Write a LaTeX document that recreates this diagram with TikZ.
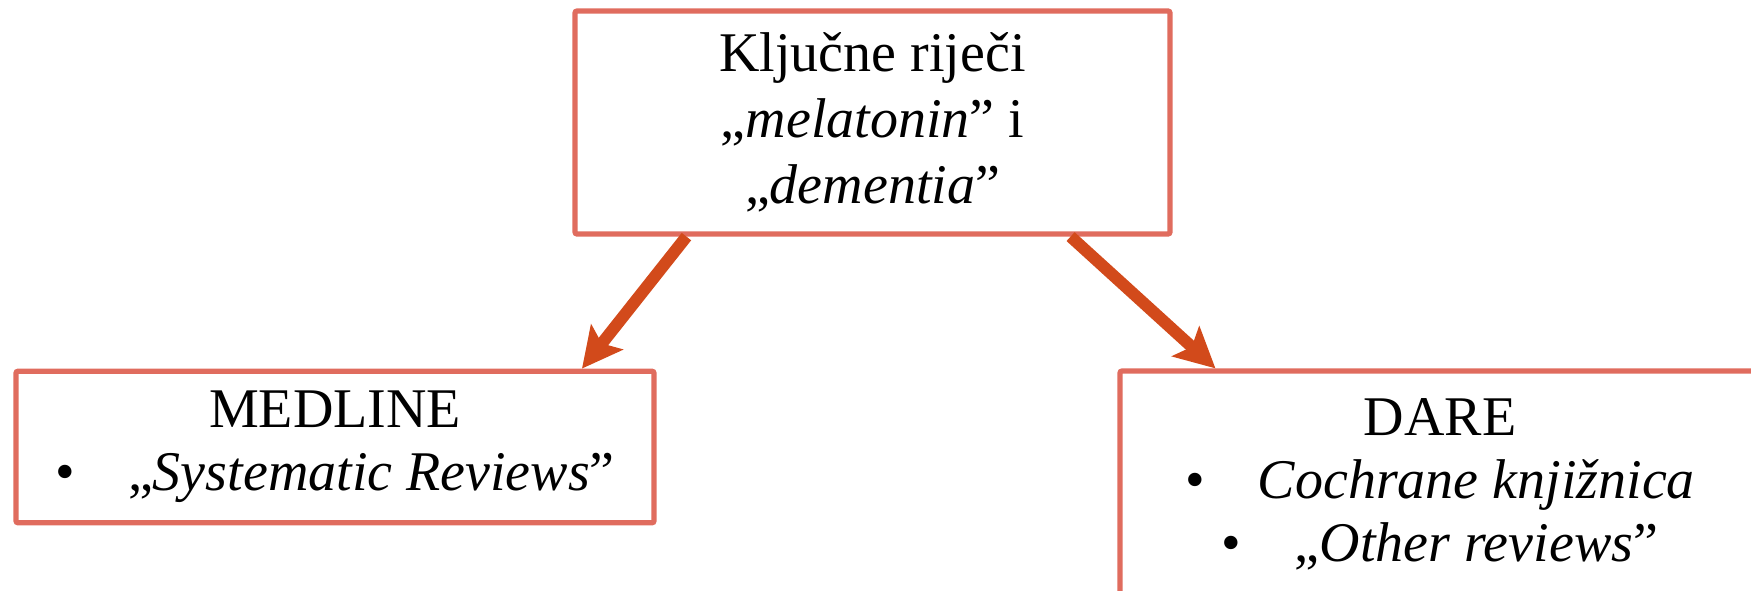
\documentclass[tikz,border=0pt]{standalone}
\usepackage{fontspec}
\setmainfont{Liberation Serif}
\usetikzlibrary{arrows.meta,calc}
\definecolor{boxred}{HTML}{E06C5E}
\definecolor{arrred}{HTML}{D24A1B}
\tikzset{
  box/.style={draw=boxred, line width=2.6pt, rounded corners=1pt, fill=white,
    inner sep=0pt, align=center, font=\fontsize{28}{31.5}\selectfont},
  link/.style={draw=arrred, line width=6pt,
    -{Stealth[length=20pt,width=20pt,inset=4pt]}}
}
\newcommand{\bul}{\textbullet\hspace{0.95em}}
\begin{document}
\begin{tikzpicture}[x=0.5pt,y=-0.5pt]
\useasboundingbox (0,0) rectangle (1751,590);
\node[box, minimum width=297.5pt, minimum height=111.5pt,
  font=\fontsize{28}{33}\selectfont] (top) at (872.5,122.5)
  {Ključne riječi\\„\textit{melatonin}” i\\„\textit{dementia}”};
\node[box, minimum width=319pt, minimum height=75.8pt] (med) at (335,447)
  {MEDLINE\\\bul„\textit{Systematic Reviews}”};
\node[box, minimum width=320pt, minimum height=113pt] (dare) at (1440,484)
  {DARE\\\bul\textit{Cochrane knjižnica}\\\bul„\textit{Other reviews}”};
\coordinate (s1) at ($(top.south west)!0.19!(top.south east)$);
\coordinate (s2) at ($(top.south west)!0.83!(top.south east)$);
\coordinate (t1) at ($(med.north west)!0.884!(med.north east)$);
\coordinate (t2) at ($(dare.north west)!0.152!(dare.north east)$);
\draw[link] (s1) -- (t1);
\draw[link] (s2) -- (t2);
\end{tikzpicture}
\end{document}
